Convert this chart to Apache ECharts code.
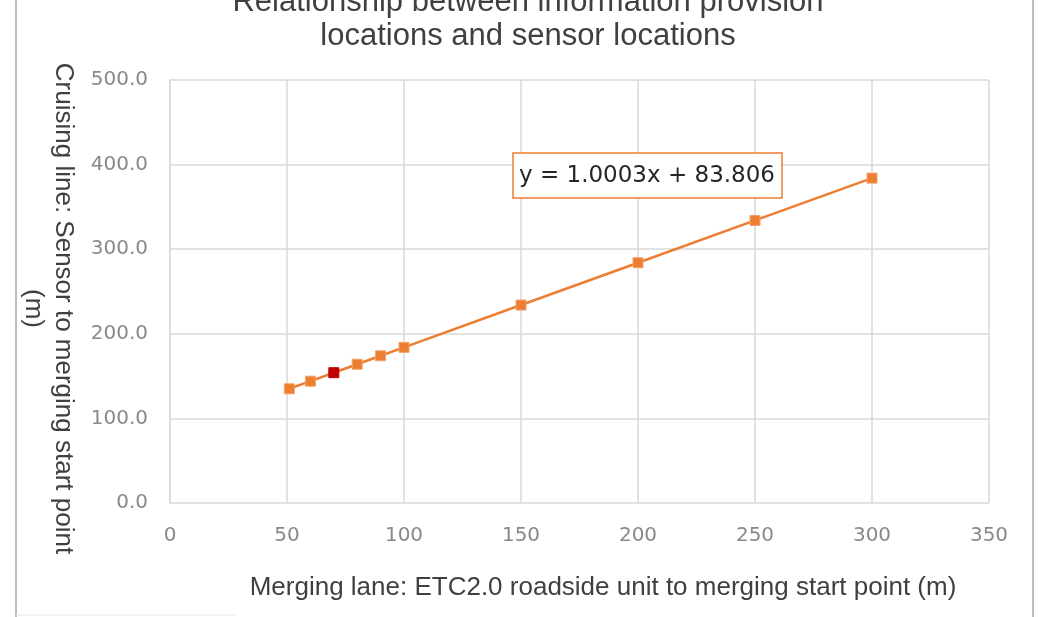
<!DOCTYPE html>
<html>
<head>
<meta charset="utf-8">
<script src="https://cdn.jsdelivr.net/npm/echarts@6/dist/echarts.min.js"></script>
<style>
  html, body {margin: 0; padding: 0; background: #fff;}
  #chart {width: 1039px; height: 617px;}
</style>
</head>
<body>
<div id="chart"></div>
<script>
// merging lane distance (m) vs cruising line distance (m)
const xValues = [51, 60, 70, 80, 90, 100, 150, 200, 250, 300]
const yValues = [135, 144, 154, 164, 174, 184, 234, 284, 334, 384]
// the one highlighted point (red)
const highlightX = 70
const trendText = 'y = 1.0003x + 83.806'
const titleText = 'Relationship between information provision\nlocations and sensor locations'
const xName = 'Merging lane: ETC2.0 roadside unit to merging start point (m)'
const yName = 'Cruising line: Sensor to merging start point\n(m)'

const chart = echarts.init(document.getElementById('chart'))

const points = xValues.map((x, i) => {
  const item = {value: [x, yValues[i]]}
  if (x == highlightX) {
    item.itemStyle = {color: '#c00000', borderColor: '#c00000'}
  }
  return item
})

chart.setOption({
  animation: false,
  grid: {left: 170, right: 50, top: 80, bottom: 114},
  xAxis: {
    type: 'value',
    min: 0,
    max: 350,
    interval: 50,
    name: xName,
    nameLocation: 'middle',
    nameGap: 72,
    nameTextStyle: {fontFamily: 'Liberation Sans', fontSize: 26, color: '#404040', padding: [0, 0, 0, 47]},
    axisLine: {show: false},
    axisTick: {show: false},
    axisLabel: {fontFamily: 'DejaVu Sans', fontSize: 20, color: '#898989', margin: 23},
    splitLine: {lineStyle: {color: '#d9d9d9', width: 1.5}}
  },
  yAxis: {
    type: 'value',
    min: 0,
    max: 500,
    interval: 100,
    name: yName,
    nameLocation: 'middle',
    nameRotate: -90,
    nameGap: 92,
    nameTextStyle: {fontFamily: 'Liberation Sans', fontSize: 26, color: '#404040', lineHeight: 30,
      padding: [0, 0, 0, 34]},
    axisLine: {show: true, lineStyle: {color: '#d9d9d9', width: 1.5}},
    axisTick: {show: false},
    axisLabel: {fontFamily: 'DejaVu Sans', fontSize: 20, color: '#898989', margin: 22,
      formatter: v => v.toFixed(1)},
    splitLine: {lineStyle: {color: '#d9d9d9', width: 1.5}}
  },
  series: [{
    type: 'line',
    data: points,
    symbol: 'rect',
    symbolSize: 10,
    lineStyle: {color: '#ed7d31', width: 2.5},
    itemStyle: {color: '#ed7d31', borderColor: '#f4a36b', borderWidth: 1}
  }],
  graphic: [
    {
      type: 'text', x: 528, y: -15,
      style: {text: titleText, fontFamily: 'Liberation Sans', fontSize: 31, lineHeight: 34,
        fill: '#404040', align: 'center', verticalAlign: 'top'}
    },
    {
      type: 'rect', shape: {x: 513, y: 153, width: 269, height: 45},
      style: {fill: '#fff', stroke: '#ed7d31', lineWidth: 1.5}, z: 100
    },
    {
      type: 'text', x: 647, y: 176, z: 101,
      style: {text: trendText, fontFamily: 'DejaVu Sans', fontSize: 23, fill: '#262626',
        align: 'center', verticalAlign: 'middle'}
    },
    {type: 'line', shape: {x1: 16, y1: 0, x2: 16, y2: 617}, style: {stroke: '#a6a6a6', lineWidth: 1.5}},
    {type: 'line', shape: {x1: 1033, y1: 0, x2: 1033, y2: 617}, style: {stroke: '#a6a6a6', lineWidth: 1.5}},
    {type: 'line', shape: {x1: 16, y1: 615, x2: 235, y2: 615}, style: {stroke: '#e6e6e6', lineWidth: 1}}
  ]
})
</script>
</body>
</html>
